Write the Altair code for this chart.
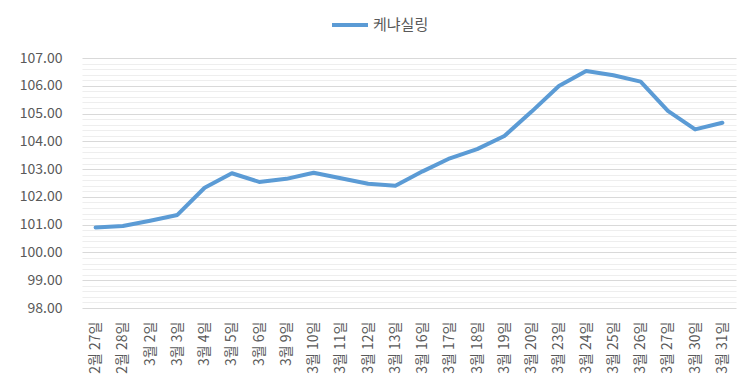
import altair as alt
import pandas as pd

dates = ["2월 27일", "2월 28일", "3월 2일", "3월 3일", "3월 4일", "3월 5일", "3월 6일",
         "3월 9일", "3월 10일", "3월 11일", "3월 12일", "3월 13일", "3월 16일", "3월 17일",
         "3월 18일", "3월 19일", "3월 20일", "3월 23일", "3월 24일", "3월 25일", "3월 26일",
         "3월 27일", "3월 30일", "3월 31일"]
values = [100.90, 100.95, 101.14, 101.35, 102.33, 102.85, 102.54, 102.65, 102.87, 102.67,
          102.47, 102.40, 102.92, 103.39, 103.72, 104.19, 105.07, 105.99, 106.53, 106.38,
          106.15, 105.10, 104.43, 104.67]
series_name = "케냐실링"

y_ticks = [round(98 + k / 5, 2) for k in range(46)]

df = pd.DataFrame({"date": dates, "value": values, "series": [series_name] * len(dates)})

FONT = "Noto Sans CJK KR"
TXT = "#595959"
is_major = "abs(datum.value - round(datum.value)) < 0.001"

chart = alt.Chart(df).mark_line(
    strokeWidth=4, strokeCap="round", strokeJoin="round"
).encode(
    x=alt.X("date:N", sort=None, title=None,
            scale=alt.Scale(type="point", padding=0.5),
            axis=alt.Axis(labelAngle=270, labelFontSize=14, labelFont=FONT, labelColor=TXT,
                          ticks=False, domain=False, grid=False, labelPadding=13)),
    y=alt.Y("value:Q", title=None,
            scale=alt.Scale(domain=[98, 107], nice=False, zero=False),
            axis=alt.Axis(values=y_ticks, labelExpr=f"{is_major} ? format(datum.value, '.2f') : ''",
                          labelFontSize=14, labelFont=FONT, labelColor=TXT, labelOverlap=False,
                          ticks=False, domain=False, labelPadding=20,
                          gridColor={"condition": {"test": is_major, "value": "#D9D9D9"}, "value": "#EEEEEE"},
                          gridWidth=1.2)),
    color=alt.Color("series:N", title=None,
                    scale=alt.Scale(domain=[series_name], range=["#5B9BD5"]),
                    legend=alt.Legend(orient="none", legendX=248, legendY=-53, symbolType="stroke",
                                      symbolStrokeWidth=4, symbolSize=1296, labelFontSize=15,
                                      labelFont=FONT, labelColor=TXT, labelOffset=3)),
).properties(
    width=654, height=250,
    autosize=alt.AutoSizeParams(type="none"),
    padding={"left": 74, "top": 50, "right": 10, "bottom": 76},
).configure_view(stroke=None)

chart.save("out.html", embed_options={"renderer": "svg", "actions": False})
